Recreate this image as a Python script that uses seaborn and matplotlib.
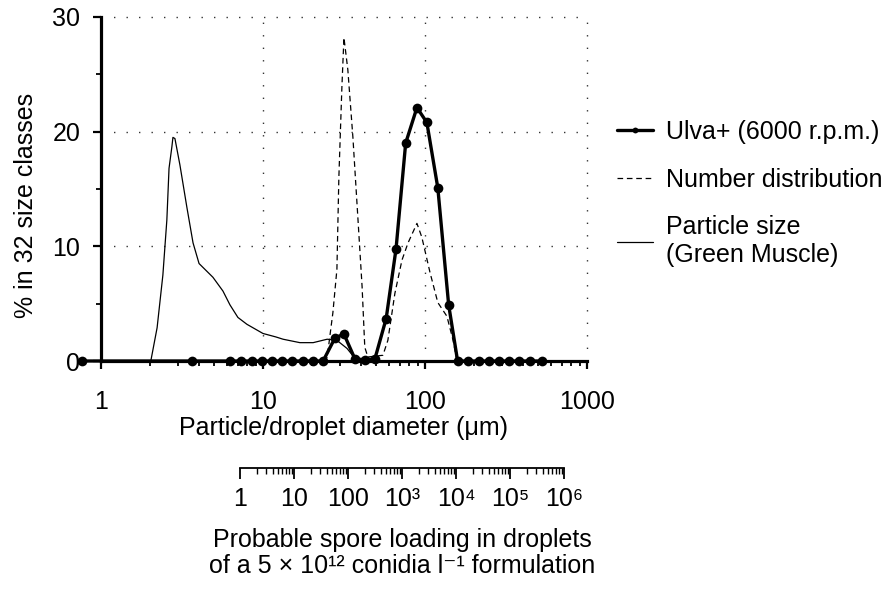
import numpy as np
import matplotlib
matplotlib.use('Agg')
import matplotlib.pyplot as plt
import matplotlib.ticker as mticker
import seaborn as sns

# Ulva+ (6000 r.p.m.) droplet spectrum, size class diameters (um) and % per class
diameter = [0.76, 3.65, 6.25, 7.30, 8.53, 9.85, 11.4, 13.1, 15.2, 17.6, 20.4, 23.5,
            27.8, 31.6, 36.9, 42.5, 49.1, 57.6, 66.3, 76.0, 89.2, 102.7, 120, 140,
            159, 184, 215, 248, 287, 330, 380, 444, 527]
ulva = [0, 0, 0, 0, 0, 0, 0, 0, 0, 0, 0, 0,
        2.0, 2.35, 0.2, 0.1, 0.2, 3.7, 9.8, 19.0, 22.1, 20.8, 15.1, 4.9,
        0, 0, 0, 0, 0, 0, 0, 0, 0]

# number distribution (dashed)
num_d = [23.5, 24.9, 26.0, 27.0, 28.6, 29.4, 30.7, 31.6, 33.4, 35.9, 38.6, 40.9,
         42.5, 44.4, 55.0, 59.0, 65.2, 72.1, 78.6, 89.2, 95.6, 107.5, 120, 136.6,
         149.1, 157.8]
num_pct = [0, 0.3, 2.4, 4.2, 8.0, 16.0, 23.9, 28.2, 25.4, 19.5, 12.3, 6.5,
           1.2, 0.35, 0.5, 1.8, 5.9, 8.8, 10.3, 12.0, 10.8, 7.7, 5.1, 3.9,
           1.8, 0]

# particle size of Green Muscle powder (thin line)
part_d = [2.03, 2.22, 2.41, 2.55, 2.63, 2.74, 2.78, 2.86, 3.07, 3.39, 3.70, 4.03,
          4.91, 5.66, 6.25, 7.0, 7.96, 10.0, 12.0, 13.3, 16.9, 20.4, 24.9, 28.6,
          33.0, 36.9, 39.6]
part_pct = [0, 2.9, 7.5, 12.3, 16.8, 18.7, 19.5, 19.4, 17.1, 13.4, 10.3, 8.5,
            7.3, 6.1, 4.9, 3.8, 3.2, 2.4, 2.1, 1.9, 1.6, 1.6, 1.9, 1.8,
            1.1, 0.25, 0]

labels = ['Ulva+ (6000 r.p.m.)', 'Number distribution', 'Particle size\n(Green Muscle)']

# lower scale: spores per droplet for a 5e12 conidia/l formulation
conc = 5e12
spore_ticks = [1, 10, 100, 1e3, 1e4, 1e5, 1e6]
spore_labels = ['1', '10', '100', '10³', '10⁴', '10⁵', '10⁶']


def spores_to_d(s):
    # droplet volume (l) = pi/6 * d^3 * 1e-15 for d in um
    return np.cbrt(np.asarray(s) / (conc * np.pi / 6 * 1e-15))


sns.set_theme(style='ticks')
plt.rcParams['font.family'] = ['Liberation Sans', 'DejaVu Sans']
plt.rcParams['text.color'] = 'black'
plt.rcParams['axes.labelcolor'] = 'black'
plt.rcParams['xtick.color'] = 'black'
plt.rcParams['ytick.color'] = 'black'

fs = 18
fig = plt.figure(figsize=(8.93, 5.92), dpi=100)
ax = fig.add_axes([0.1131, 0.3902, 0.5442, 0.5811])
ax.set_xscale('log')

sns.lineplot(x=part_d, y=part_pct, ax=ax, color='black', lw=0.9, sort=False, legend=False)
sns.lineplot(x=num_d, y=num_pct, ax=ax, color='black', lw=0.9, sort=False, legend=False,
             linestyle=(0, (4.5, 3)))
sns.lineplot(x=diameter, y=ulva, ax=ax, color='black', lw=2.4, sort=False, legend=False,
             marker='o', markersize=7, markeredgewidth=0, clip_on=False, zorder=5)

ax.set_xlim(1, 1000)
ax.set_ylim(0, 30)
ax.set_yticks([0, 10, 20, 30])
ax.yaxis.set_minor_locator(mticker.FixedLocator([5, 15, 25]))
ax.xaxis.set_major_locator(mticker.FixedLocator([1, 10, 100, 1000]))
ax.xaxis.set_major_formatter(mticker.FuncFormatter(lambda v, p: f'{v:g}'))
ax.xaxis.set_minor_locator(mticker.LogLocator(subs=np.arange(2, 10)))
ax.xaxis.set_minor_formatter(mticker.NullFormatter())

ax.tick_params(which='major', length=6, width=1.6, direction='out', labelsize=fs)
ax.tick_params(axis='x', which='major', pad=15)
ax.tick_params(axis='y', which='major', pad=9)
ax.tick_params(which='minor', length=3.5, width=1.3, direction='out')

sns.despine(ax=ax)
for s in ['left', 'bottom']:
    ax.spines[s].set_linewidth(2.3)
    ax.spines[s].set_color('black')

ax.grid(True, which='major', color='0.2', lw=1.0, ls=(0, (1, 8)))
for gl in ax.get_xgridlines() + ax.get_ygridlines():
    gl.set_clip_on(False)

ax.set_xlabel('Particle/droplet diameter (μm)', fontsize=fs, labelpad=1)
ax.set_ylabel('% in 32 size classes', fontsize=fs)
ax.yaxis.set_label_coords(-0.13, 0.453)

lines = ax.get_lines()
handles = [lines[2], lines[1], lines[0]]
ax.legend(handles, labels, loc='upper left', bbox_to_anchor=(617 / 893, 1 - 120 / 592),
          bbox_transform=fig.transFigure, frameon=False, fontsize=fs,
          handlelength=1.45, handletextpad=0.5, labelspacing=0.95,
          borderpad=0, borderaxespad=0, markerscale=0.6)

# lower axis aligned to the droplet diameter axis
fig.canvas.draw()
to_fig = fig.transFigure.inverted()
x0 = to_fig.transform(ax.transData.transform((spores_to_d(spore_ticks[0]), 0)))[0]
x1 = to_fig.transform(ax.transData.transform((spores_to_d(spore_ticks[-1]), 0)))[0]
ax2 = fig.add_axes([x0, 1 - 468 / 592, x1 - x0, 0.0001])
ax2.set_xscale('log')
ax2.set_xlim(spore_ticks[0], spore_ticks[-1])
ax2.set_xticks(spore_ticks, spore_labels)
minor = [k * 10 ** n for n in range(6) for k in range(2, 10)]
ax2.xaxis.set_minor_locator(mticker.FixedLocator(minor))
ax2.xaxis.set_minor_formatter(mticker.NullFormatter())
ax2.set_yticks([])
ax2.patch.set_visible(False)
for s in ['left', 'right', 'top']:
    ax2.spines[s].set_visible(False)
ax2.spines['bottom'].set_linewidth(1.3)
ax2.spines['bottom'].set_color('black')
ax2.tick_params(which='major', length=8, width=1.3, direction='out', labelsize=fs, pad=6)
ax2.tick_params(which='minor', length=4, width=1.0, direction='out')
ax2.set_xlabel('Probable spore loading in droplets\nof a 5 × 10¹² conidia l⁻¹ formulation',
               fontsize=fs, labelpad=12, linespacing=1.1)

fig.savefig('out.png', dpi=100)
